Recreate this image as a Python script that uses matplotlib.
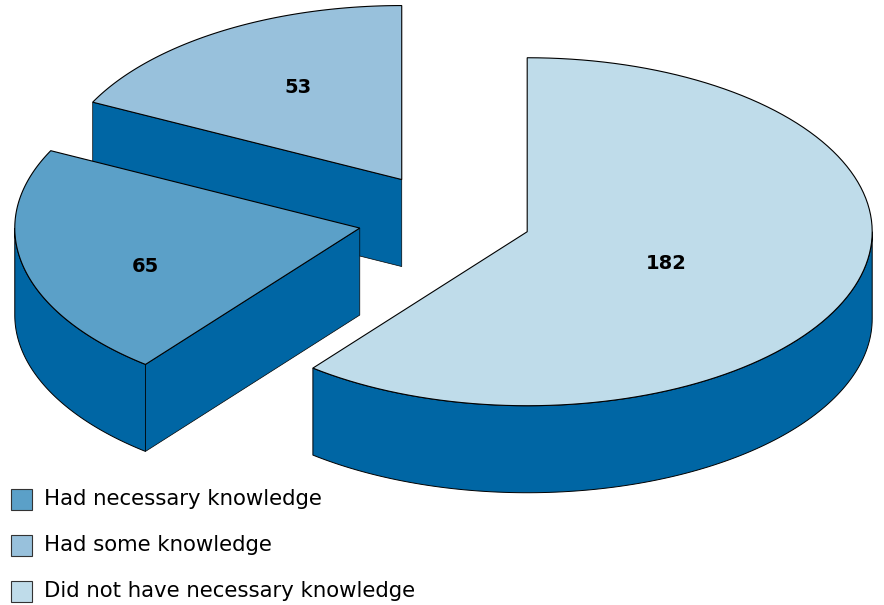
import numpy as np
import matplotlib.pyplot as plt
from matplotlib.patches import Polygon, Rectangle

# data
categories = ["Had necessary knowledge", "Had some knowledge", "Did not have necessary knowledge"]
values = [65, 53, 182]

# style
top_colors = ["#5ba0c8", "#98c1dc", "#bfdcea"]
wall_color = "#0066a4"
explode = [0.265, 0.26, 0.24]
label_r = [0.654, 0.618, 0.436]
label_shift = [-5.9, 2.7, 3.5]   # degrees off the bisector

plt.rcParams['font.family'] = ['DejaVu Sans']

fig = plt.figure(figsize=(8.84, 6.05), dpi=100)
ax = fig.add_axes([0, 0, 1, 1])
ax.set_xlim(0, 884)
ax.set_ylim(605, 0)
ax.axis('off')

cx, cy = 449, 218      # pie centre (pixels)
rx, ry = 345, 174      # ellipse radii
depth = 87

# angles measured clockwise from 12 o'clock; big slice starts at top
total = sum(values)
spans = [v / total * 360 for v in values]
start_big = 0.0
starts = {2: start_big}
starts[0] = start_big + spans[2]
starts[1] = starts[0] + spans[0]


def pt(x0, y0, th, dz=0):
    t = np.radians(th)
    return x0 + rx * np.sin(t), y0 - ry * np.cos(t) + dz


def arc(x0, y0, a1, a2, dz=0, n=120):
    th = np.linspace(a1, a2, n)
    t = np.radians(th)
    return np.column_stack([x0 + rx * np.sin(t), y0 - ry * np.cos(t) + dz])


order = [1, 0, 2]  # back to front
for i in order:
    a1 = starts[i]
    a2 = a1 + spans[i]
    mid = np.radians((a1 + a2) / 2)
    x0 = cx + explode[i] * rx * np.sin(mid)
    y0 = cy - explode[i] * ry * np.cos(mid)

    # outer wall, only the front half (90..270)
    lo, hi = max(a1, 90), min(a2, 270)
    if hi > lo:
        top = arc(x0, y0, lo, hi)
        bot = arc(x0, y0, lo, hi, dz=depth)[::-1]
        ax.add_patch(Polygon(np.vstack([top, bot]), closed=True, fc=wall_color,
                             ec="black", lw=0.7, zorder=2))
    # radial walls facing the viewer
    for th, normal in [(a1, a1 - 90), (a2, a2 + 90)]:
        if np.cos(np.radians(normal - 180)) > 0.05:
            p = pt(x0, y0, th)
            quad = [(x0, y0), p, (p[0], p[1] + depth), (x0, y0 + depth)]
            ax.add_patch(Polygon(quad, closed=True, fc=wall_color,
                                 ec="black", lw=0.5, zorder=2))
    # top face
    face = np.vstack([[x0, y0], arc(x0, y0, a1, a2), [x0, y0]])
    ax.add_patch(Polygon(face, closed=True, fc=top_colors[i], ec="black",
                         lw=0.8, zorder=3))
    # label
    la = mid + np.radians(label_shift[i])
    lx = x0 + label_r[i] * rx * np.sin(la)
    ly = y0 - label_r[i] * ry * np.cos(la)
    ax.text(lx, ly, str(values[i]), ha="center", va="center_baseline",
            fontsize=14, fontweight="bold", color="black", zorder=4)

# legend
leg_y = [499, 545, 591]
for i, name in enumerate(categories):
    ax.add_patch(Rectangle((11, leg_y[i] - 10.5), 21, 21, fc=top_colors[i],
                           ec="#333333", lw=0.8, zorder=3))
    ax.text(44, leg_y[i], name, ha="left", va="center", fontsize=15.3,
            color="black")

fig.savefig("out.png", dpi=100)
